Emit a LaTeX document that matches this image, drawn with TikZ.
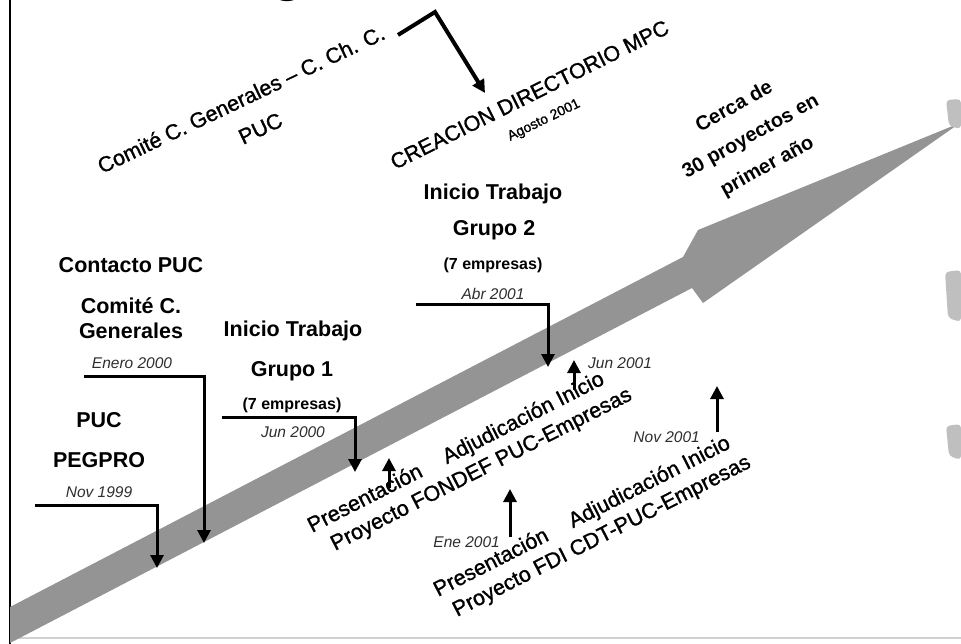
\documentclass[tikz,border=0pt]{standalone}
\usepackage{fontspec}
\setmainfont{Liberation Sans}
\newfontfamily\medio{Liberation Sans}[FakeBold=1.2, Ligatures=TeX]
\newfontfamily\tituloserif{Liberation Serif}
\usetikzlibrary{arrows.meta}
\tikzset{
  hito/.style={line width=3pt, -{Triangle[length=13pt,width=13pt]}},
  titulo/.style={font=\fontsize{21.5}{25}\selectfont\bfseries, anchor=base, inner sep=0pt},
  subtitulo/.style={font=\fontsize{16}{19}\selectfont\bfseries, anchor=base, inner sep=0pt},
  fecha/.style={font=\fontsize{15.5}{18}\selectfont\itshape, text=black!82, anchor=base, inner sep=0pt},
  inclinado/.style={font=\medio\fontsize{21.5}{25}\selectfont, anchor=base west, inner sep=0pt, rotate=26},
}

\begin{document}
\begin{tikzpicture}[x=1pt,y=-1pt]
    \useasboundingbox (0,0) rectangle (961,644);
    \fill[white] (0,0) rectangle (961,644);

    % Frame and cut-off title
    \node[font=\tituloserif\fontsize{46}{46}\selectfont\bfseries, anchor=base, inner sep=0pt] (titulo-g) at (288,-8) {g};
    \draw[line width=2pt] (10,0) -- (10,644);
    \draw[black!18, line width=1.5pt] (10,638) -- (961,638);

    % Time arrow
    \fill[black!42] (10,607) -- (683,257) -- (698,230) -- (960,123) -- (703,303) -- (692,288) -- (10,643) -- cycle;
    \fill[black!25, rounded corners=4pt] (946,100) -- (961,99) -- (961,129) -- (949,126) -- cycle;
    \fill[black!25, rounded corners=4pt] (945,272) -- (961,270) -- (961,322) -- (948,318) -- cycle;
    \fill[black!25, rounded corners=4pt] (946,426) -- (961,424) -- (961,460) -- (949,456) -- cycle;

    % PUC - PEGPRO
    \node[titulo] (puc) at (99,427) {PUC};
    \node[titulo] (pegpro) at (99,467) {PEGPRO};
    \node[fecha] (nov99) at (99,497) {Nov 1999};
    \coordinate (nov99-a) at (35,505);
    \coordinate (nov99-b) at (157,568);
    \draw[hito] (nov99-a) -| (nov99-b);

    % Contacto PUC
    \node[titulo] (contacto) at (131,273) {Contacto PUC};
    \node[titulo] (comite-a) at (131,313) {Comité C.};
    \node[titulo] (comite-b) at (131,338) {Generales};
    \node[fecha] (enero00) at (132,368) {Enero 2000};
    \coordinate (enero00-a) at (84,376);
    \coordinate (enero00-b) at (204,543);
    \draw[hito] (enero00-a) -| (enero00-b);

    % Grupo 1
    \node[titulo] (inicio1) at (293,337) {Inicio Trabajo};
    \node[titulo] (grupo1) at (292,376) {Grupo 1};
    \node[subtitulo] (empresas1) at (292,409) {(7 empresas)};
    \node[fecha] (jun00) at (293,437) {Jun 2000};
    \coordinate (jun00-a) at (222,417);
    \coordinate (jun00-b) at (355,472);
    \draw[hito] (jun00-a) -| (jun00-b);

    % Grupo 2
    \node[titulo] (inicio2) at (493,200) {Inicio Trabajo};
    \node[titulo] (grupo2) at (494,236) {Grupo 2};
    \node[subtitulo] (empresas2) at (493,270) {(7 empresas)};
    \node[fecha] (abr01) at (493,300) {Abr 2001};
    \coordinate (abr01-a) at (416,305);
    \coordinate (abr01-b) at (548,367);
    \draw[hito] (abr01-a) -| (abr01-b);

    % Directorio
    \node[inclinado, rotate=-0.5] (comite-cch) at (102,174) {Comité C. Generales – C. Ch. C.};
    \node[inclinado, rotate=-0.5] (puc-cch) at (243,145) {PUC};
    \node[inclinado, rotate=0.5] (creacion) at (395,170) {CREACION DIRECTORIO MPC};
    \node[inclinado, font=\medio\fontsize{14}{16}\selectfont] (agosto01) at (510,141) {Agosto 2001};
    \coordinate (dir-a) at (398,35);
    \coordinate (dir-b) at (435,12);
    \coordinate (dir-c) at (485,93);
    \draw[hito, line width=4pt] (dir-a) -- (dir-b) -- (dir-c);

    % Meta
    \node[font=\fontsize{20}{34}\selectfont\bfseries, align=center, rotate=29, inner sep=0pt] (cerca) at (751,137) {Cerca de\\30 proyectos en\\primer año};

    % FONDEF
    \node[inclinado, rotate=1] (fondef-a) at (312,533) {Presentación\hspace{1.2em}Adjudicación Inicio};
    \node[inclinado, rotate=1] (fondef-b) at (335,551) {Proyecto FONDEF PUC-Empresas};
    \coordinate (fondef-p0) at (389,488);
    \coordinate (fondef-p1) at (389,458);
    \draw[hito] (fondef-p0) -- (fondef-p1);
    \coordinate (fondef-j0) at (574,390);
    \coordinate (fondef-j1) at (574,360);
    \draw[hito] (fondef-j0) -- (fondef-j1);
    \node[fecha, anchor=base west] (jun01) at (588,368) {Jun 2001};

    % FDI
    \node[inclinado, rotate=1] (fdi-a) at (438,597) {Presentación\hspace{1.2em}Adjudicación Inicio};
    \node[inclinado, rotate=1] (fdi-b) at (457,617) {Proyecto FDI CDT-PUC-Empresas};
    \coordinate (fdi-e0) at (510,537);
    \coordinate (fdi-e1) at (510,489);
    \draw[hito] (fdi-e0) -- (fdi-e1);
    \node[fecha, anchor=base east] (ene01) at (500,547) {Ene 2001};
    \coordinate (fdi-n0) at (717,432);
    \coordinate (fdi-n1) at (717,386);
    \draw[hito] (fdi-n0) -- (fdi-n1);
    \node[fecha, anchor=base east] (nov01) at (700,442) {Nov 2001};
\end{tikzpicture}
\end{document}
